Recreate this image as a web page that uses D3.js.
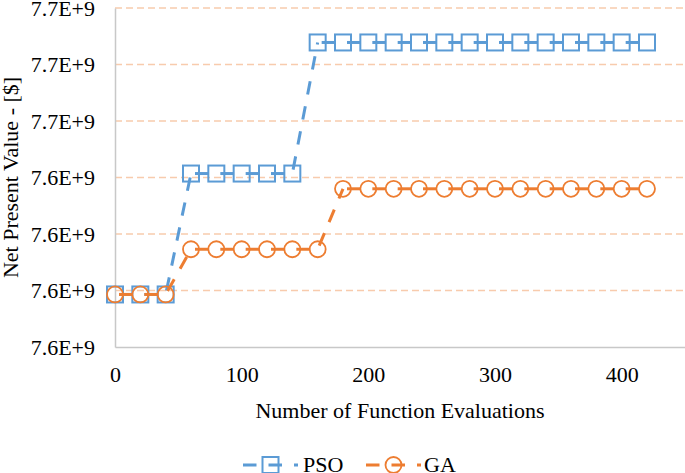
<!DOCTYPE html>
<html>
<head>
<meta charset="utf-8">
<script src="https://cdn.jsdelivr.net/npm/d3@7"></script>
</head>
<body style="margin:0;background:#fff">
<svg id="chart" width="685" height="473" style="display:block;font-family:&quot;Liberation Serif&quot;"></svg>
<script>
// ---- data ----
const evaluations = [0, 20, 40, 60, 80, 100, 120, 140, 160, 180, 200, 220, 240, 260, 280, 300, 320, 340, 360, 380, 400, 420];
const psoValues = [
  7.6193e9, 7.6193e9, 7.6193e9,
  7.6407e9, 7.6407e9, 7.6407e9, 7.6407e9, 7.6407e9,
  7.6639e9, 7.6639e9, 7.6639e9, 7.6639e9, 7.6639e9, 7.6639e9, 7.6639e9,
  7.6639e9, 7.6639e9, 7.6639e9, 7.6639e9, 7.6639e9, 7.6639e9, 7.6639e9
];
const gaValues = [
  7.6193e9, 7.6193e9, 7.6193e9,
  7.6273e9, 7.6273e9, 7.6273e9, 7.6273e9, 7.6273e9, 7.6273e9,
  7.6380e9, 7.6380e9, 7.6380e9, 7.6380e9, 7.6380e9, 7.6380e9, 7.6380e9,
  7.6380e9, 7.6380e9, 7.6380e9, 7.6380e9, 7.6380e9, 7.6380e9
];
const yTicks = [7.61e9, 7.62e9, 7.63e9, 7.64e9, 7.65e9, 7.66e9, 7.67e9];
const yTickLabels = ["7.6E+9", "7.6E+9", "7.6E+9", "7.6E+9", "7.7E+9", "7.7E+9", "7.7E+9"];
const xTicks = [0, 100, 200, 300, 400];
const seriesNames = ["PSO", "GA"];

(function () {
// ---- layout ----
const svg = d3.select("#chart");
const pLeft = 115, pRight = 685, pTop = 8, pBottom = 347;
const colors = { PSO: "#5b9bd5", GA: "#ed7d31" };
const styleText = sel => sel
  .attr("font-family", null)
  .style("font-family", '"Liberation Serif"')
  .style("font-size", "22px")
  .style("fill", "#000");

const x = d3.scaleLinear().domain([0, 450]).range([pLeft, pRight]);
const y = d3.scaleLinear().domain([7.61e9, 7.67e9]).range([pBottom, pTop]);

// gridlines
svg.append("g").selectAll("line")
  .data(yTicks.slice(1))
  .join("line")
  .attr("x1", pLeft).attr("x2", pRight)
  .attr("y1", d => y(d)).attr("y2", d => y(d))
  .attr("stroke", "#f8cbad").attr("stroke-width", 1.3)
  .attr("stroke-dasharray", "7,4");

// axes
const yAxis = svg.append("g")
  .attr("transform", `translate(${pLeft},0)`)
  .call(d3.axisLeft(y).tickValues(yTicks).tickFormat((d, i) => yTickLabels[i]).tickSize(0).tickPadding(20));
yAxis.attr("font-family", null).attr("font-size", null);
yAxis.select(".domain").attr("stroke", "#c8c8c8").attr("stroke-width", 1.5);
yAxis.selectAll("text").call(styleText);

const xAxis = svg.append("g")
  .attr("transform", `translate(0,${pBottom})`)
  .call(d3.axisBottom(x).tickValues(xTicks).tickFormat(d3.format("d")).tickSize(0).tickPadding(19));
xAxis.attr("font-family", null).attr("font-size", null);
xAxis.select(".domain").attr("stroke", "#c8c8c8").attr("stroke-width", 1.5);
xAxis.selectAll("text").call(styleText);

// axis titles
svg.append("text")
  .attr("x", (pLeft + pRight) / 2).attr("y", 418)
  .attr("text-anchor", "middle")
  .call(styleText)
  .text("Number of Function Evaluations");
svg.append("text")
  .attr("transform", `translate(18,${(pTop + pBottom) / 2}) rotate(-90)`)
  .attr("text-anchor", "middle")
  .call(styleText)
  .text("Net Present Value - [$]");

// series
const DASH = "13.5,12";
function drawMarkers(g, name, pts) {
  if (name === "PSO") {
    g.selectAll("rect.m").data(pts).join("rect")
      .attr("class", "m")
      .attr("x", d => d[0] - 8).attr("y", d => d[1] - 8)
      .attr("width", 16).attr("height", 16)
      .attr("fill", "none").attr("stroke", colors[name]).attr("stroke-width", 2);
  } else {
    g.selectAll("circle.m").data(pts).join("circle")
      .attr("class", "m")
      .attr("cx", d => d[0]).attr("cy", d => d[1]).attr("r", 8)
      .attr("fill", "none").attr("stroke", colors[name]).attr("stroke-width", 1.8);
  }
}
function drawSeries(name, values) {
  const pts = evaluations.map((e, i) => [x(e), y(values[i])]);
  const segs = d3.pairs(pts);
  const g = svg.append("g");
  g.selectAll("line.seg").data(segs).join("line")
    .attr("class", "seg")
    .attr("x1", d => d[0][0]).attr("y1", d => d[0][1])
    .attr("x2", d => d[1][0]).attr("y2", d => d[1][1])
    .attr("stroke", colors[name]).attr("stroke-width", 3)
    .attr("stroke-dasharray", DASH).attr("stroke-dashoffset", 21.5);
  drawMarkers(g, name, pts);
}
drawSeries("PSO", psoValues);
drawSeries("GA", gaValues);

// legend
const legendY = 465;
const legendItems = [
  { name: seriesNames[0], x0: 243, x1: 298, tx: 303 },
  { name: seriesNames[1], x0: 366, x1: 421, tx: 424 }
];
legendItems.forEach(it => {
  const g = svg.append("g");
  g.append("line")
    .attr("x1", it.x0).attr("x2", it.x1).attr("y1", legendY).attr("y2", legendY)
    .attr("stroke", colors[it.name]).attr("stroke-width", 3)
    .attr("stroke-dasharray", DASH);
  drawMarkers(g, it.name, [[(it.x0 + it.x1) / 2, legendY]]);
  g.append("text").attr("x", it.tx).attr("y", 471.5)
    .call(styleText)
    .text(it.name);
});
})();
</script>
</body>
</html>
